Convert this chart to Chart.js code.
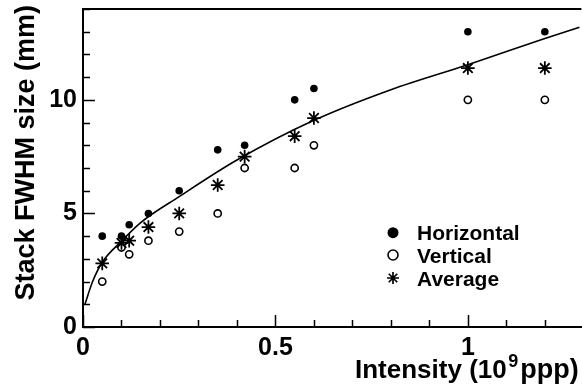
<!DOCTYPE html>
<html>
<head>
<meta charset="utf-8">
<script src="https://cdn.jsdelivr.net/npm/chart.js@4"></script>
<style>
  html, body { margin: 0; padding: 0; background: #fff; overflow: hidden; }
  #wrap { width: 590px; height: 385px; }
</style>
</head>
<body>
<div id="wrap"><canvas id="chart" width="590" height="385"></canvas></div>
<script>
// measured points, intensity in 10^9 ppp, sizes in mm
const intensity  = [0.05, 0.1, 0.12, 0.17, 0.25, 0.35, 0.42, 0.55, 0.6, 1.0, 1.2];
const horizontal = [4.0, 4.0, 4.5, 5.0, 6.0, 7.8, 8.0, 10.0, 10.5, 13.0, 13.0];
const vertical   = [2.0, 3.5, 3.2, 3.8, 4.2, 5.0, 7.0, 7.0, 8.0, 10.0, 10.0];
const average    = [2.8, 3.7, 3.8, 4.4, 5.0, 6.25, 7.5, 8.4, 9.2, 11.4, 11.4];

// fit curve
const fitX = [0.005, 0.025, 0.05, 0.1, 0.15, 0.25, 0.4, 0.6, 0.8, 1.0, 1.2, 1.29];
const fitY = [1.0, 2.0, 2.85, 3.78, 4.6, 5.74, 7.35, 9.1, 10.45, 11.55, 12.7, 13.2];

const xTickLabels = [0, 0.5, 1];
const xMinorTicks = [0, 0.1, 0.2, 0.3, 0.4, 0.5, 0.6, 0.7, 0.8, 0.9, 1, 1.1, 1.2];
const yTickLabels = [0, 5, 10];
const yMinorTicks = [0, 1, 2, 3, 4, 5, 6, 7, 8, 9, 10, 11, 12, 13, 14];
const legendLabels = ['Horizontal', 'Vertical', 'Average'];

const FONT = '"Liberation Sans", Arial, Helvetica, sans-serif';
const pts = ys => intensity.map((x, i) => ({ x, y: ys[i] }));

function marker(ctx, style, r, bw, fill, x, y) {
  ctx.save();
  ctx.fillStyle = fill;
  ctx.strokeStyle = '#000';
  ctx.lineWidth = bw;
  ctx.beginPath();
  if (style === 'star') {
    for (let k = 0; k < 4; k++) {
      const a = k * Math.PI / 4;
      ctx.moveTo(x - Math.cos(a) * r, y - Math.sin(a) * r);
      ctx.lineTo(x + Math.cos(a) * r, y + Math.sin(a) * r);
    }
    ctx.stroke();
  } else {
    ctx.arc(x, y, r, 0, Math.PI * 2);
    ctx.fill();
    if (bw > 0) ctx.stroke();
  }
  ctx.restore();
}

const frame = {
  id: 'frame',
  afterDraw(chart) {
    const { ctx, chartArea: a, scales: { x, y } } = chart;
    ctx.save();
    ctx.strokeStyle = '#000';
    ctx.lineWidth = 2;
    ctx.beginPath();
    ctx.moveTo(a.left - 1, a.top);
    ctx.lineTo(a.right, a.top);
    ctx.stroke();

    // ticks point into the plot
    ctx.lineWidth = 1.5;
    ctx.beginPath();
    xMinorTicks.forEach(v => {
      const px = Math.round(x.getPixelForValue(v)) + 0.5;
      const len = xTickLabels.includes(v) ? 12 : 7;
      ctx.moveTo(px, a.bottom);
      ctx.lineTo(px, a.bottom - len);
    });
    yMinorTicks.forEach(v => {
      const py = Math.round(y.getPixelForValue(v)) + 0.5;
      const len = yTickLabels.includes(v) ? 12 : 7;
      ctx.moveTo(a.left, py);
      ctx.lineTo(a.left + len, py);
    });
    ctx.stroke();

    // axis titles
    ctx.fillStyle = '#000';
    ctx.textBaseline = 'alphabetic';
    ctx.textAlign = 'left';
    let tx = 355;
    const ty = 378;
    ctx.font = 'bold 26px ' + FONT;
    ctx.fillText('Intensity (10', tx, ty);
    tx += ctx.measureText('Intensity (10').width + 1.5;
    ctx.font = 'bold 18px ' + FONT;
    ctx.fillText('9', tx, ty - 11.5);
    tx += ctx.measureText('9').width + 2;
    ctx.font = 'bold 27px ' + FONT;
    ctx.fillText('ppp)', tx, ty);

    ctx.save();
    ctx.translate(34, 5);
    ctx.rotate(-Math.PI / 2);
    ctx.textAlign = 'right';
    ctx.font = 'bold 27px ' + FONT;
    ctx.fillText('Stack FWHM size (mm)', 0, 0);
    ctx.restore();

    // legend
    const rows = [232.7, 255, 278];
    marker(ctx, 'circle', 5.5, 0, '#000', 393, rows[0]);
    marker(ctx, 'circle', 5, 1.6, 'rgba(0,0,0,0)', 393, rows[1]);
    marker(ctx, 'star', 6, 1.7, '#000', 393, rows[2]);
    ctx.font = 'bold 21px ' + FONT;
    legendLabels.forEach((t, i) => ctx.fillText(t, 417, rows[i] + 7.5));
    ctx.restore();
  }
};

const zeroPad = s => { s.paddingLeft = s.paddingRight = s.paddingTop = s.paddingBottom = 0; };
const tickFont = { family: FONT, size: 25, weight: 'bold' };

new Chart(document.getElementById('chart'), {
  type: 'scatter',
  data: {
    datasets: [
      { label: 'fit', data: fitX.map((x, i) => ({ x, y: fitY[i] })), showLine: true, pointRadius: 0,
        borderColor: '#000', borderWidth: 1.6, cubicInterpolationMode: 'monotone', fill: false },
      { label: legendLabels[0], data: pts(horizontal), pointStyle: 'circle', pointRadius: 3.8,
        backgroundColor: '#000', borderColor: '#000', borderWidth: 0 },
      { label: legendLabels[1], data: pts(vertical), pointStyle: 'circle', pointRadius: 3.6,
        backgroundColor: 'rgba(0,0,0,0)', borderColor: '#000', borderWidth: 1.6 },
      { label: legendLabels[2], data: pts(average), pointStyle: 'star', pointRadius: 6.8,
        backgroundColor: '#000', borderColor: '#000', borderWidth: 1.8 }
    ]
  },
  options: {
    responsive: false,
    devicePixelRatio: 1,
    animation: false,
    layout: { padding: { left: 0, top: 9, right: 2, bottom: 0 } },
    plugins: { legend: { display: false }, tooltip: { enabled: false } },
    scales: {
      x: {
        type: 'linear', min: 0, max: 1.295,
        afterBuildTicks: s => { s.ticks = xTickLabels.map(v => ({ value: v })); },
        afterFit: s => { s.height = 58; zeroPad(s); },
        grid: { display: false, drawTicks: false },
        border: { display: true, color: '#000', width: 2 },
        ticks: { color: '#000', padding: 6, font: tickFont, maxRotation: 0, autoSkip: false, callback: v => String(v) }
      },
      y: {
        type: 'linear', min: 0, max: 14,
        afterBuildTicks: s => { s.ticks = yTickLabels.map(v => ({ value: v })); },
        afterFit: s => { s.width = 83; zeroPad(s); },
        grid: { display: false, drawTicks: false },
        border: { display: true, color: '#000', width: 2 },
        ticks: { color: '#000', padding: 6, font: tickFont, autoSkip: false, callback: v => String(v) }
      }
    }
  },
  plugins: [frame]
});
</script>
</body>
</html>
